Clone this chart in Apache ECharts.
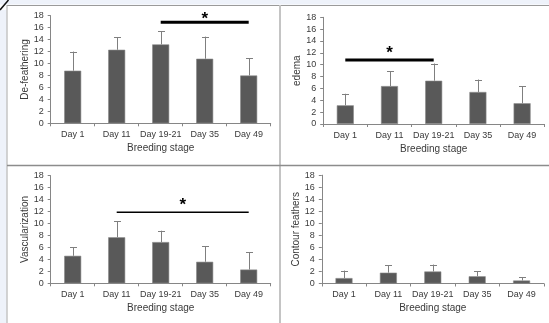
<!DOCTYPE html>
<html>
<head>
<meta charset="utf-8">
<script src="https://cdn.jsdelivr.net/npm/echarts@6/dist/echarts.min.js"></script>
<style>
html,body{margin:0;padding:0;background:#fff;}
#c{width:549px;height:323px;}
</style>
</head>
<body>
<div id="c"></div>
<script>
const categories = ['Day 1', 'Day 11', 'Day 19-21', 'Day 35', 'Day 49'];
const yTicks = [0, 2, 4, 6, 8, 10, 12, 14, 16, 18];
const xTitle = 'Breeding stage';
const panelTitles = ['De-feathering', 'edema', 'Vascularization', 'Contour feathers'];

const deFeatheringMean = [8.8, 12.3, 13.2, 10.8, 8.0];
const deFeatheringSD   = [3.2, 2.1, 2.2, 3.7, 2.9];
const edemaMean = [3.15, 6.4, 7.3, 5.4, 3.5];
const edemaSD   = [1.95, 2.5, 2.9, 2.1, 2.9];
const vascularizationMean = [4.6, 7.7, 6.9, 3.6, 2.3];
const vascularizationSD   = [1.4, 2.7, 1.9, 2.6, 2.9];
const contourMean = [0.9, 1.8, 2.0, 1.2, 0.5];
const contourSD   = [1.25, 1.2, 1.15, 0.8, 0.5];

// significance brackets: panel index, from category, to category, y value
const sigPanel = [0, 1, 2];
const sigFrom  = ['Day 19-21', 'Day 1', 'Day 11'];
const sigTo    = ['Day 49', 'Day 19-21', 'Day 49'];
const sigY     = [16.9, 10.8, 11.9];

const means = [deFeatheringMean, edemaMean, vascularizationMean, contourMean];
const sds = [deFeatheringSD, edemaSD, vascularizationSD, contourSD];

// layout (styles)
const grids = [
  {left: 50.7, top: 15.7, width: 220, height: 107.6},
  {left: 323.2, top: 17.3, width: 221, height: 106.7},
  {left: 50.7, top: 175.7, width: 220, height: 107.6},
  {left: 321.8, top: 175.2, width: 222, height: 108.3}
];
const yNameGap = [20, 20, 20, 18.5];
const sigLineWidth = [3, 3, 1.5];
const sigStarOffset = [3, 7, 6.5];

const FONT = "'Liberation Sans Narrow', 'Liberation Sans', Arial, sans-serif";
const axisColor = '#868686';
const textColor = '#3a3a3a';

const option = {
  animation: false,
  backgroundColor: '#fff',
  grid: grids.map(g => Object.assign({containLabel: false}, g)),
  xAxis: grids.map((g, i) => ({
    type: 'category',
    gridIndex: i,
    data: categories,
    name: xTitle,
    nameLocation: 'middle',
    nameGap: 20,
    nameTextStyle: {fontFamily: FONT, fontSize: 10, color: textColor},
    axisLine: {lineStyle: {color: axisColor, width: 1}},
    axisTick: {show: true, length: 3, lineStyle: {color: axisColor}},
    axisLabel: {fontFamily: FONT, fontSize: 9, color: textColor, margin: 7, interval: 0}
  })),
  yAxis: grids.map((g, i) => ({
    type: 'value',
    gridIndex: i,
    min: yTicks[0],
    max: yTicks[yTicks.length - 1],
    interval: yTicks[1] - yTicks[0],
    name: panelTitles[i],
    nameLocation: 'middle',
    nameGap: yNameGap[i],
    nameTextStyle: {fontFamily: FONT, fontSize: 10, color: textColor},
    splitLine: {show: false},
    axisLine: {show: true, lineStyle: {color: axisColor, width: 1}},
    axisTick: {show: true, length: 3, lineStyle: {color: axisColor}},
    axisLabel: {fontFamily: FONT, fontSize: 9, color: textColor, margin: 7}
  })),
  series: [],
  graphic: [
    {type: 'rect', shape: {x: 0, y: 0, width: 549, height: 4.5}, style: {fill: '#eef2fa'}, silent: true, z: 0},
    {type: 'rect', shape: {x: 0, y: 10, width: 6.5, height: 313}, style: {fill: '#eef2fa'}, silent: true, z: 0},
    {type: 'line', shape: {x1: 7, y1: 5.5, x2: 549, y2: 5.5}, style: {stroke: '#9a9a9a', lineWidth: 1}, silent: true},
    {type: 'line', shape: {x1: 7, y1: 5, x2: 7, y2: 323}, style: {stroke: '#a8a8a8', lineWidth: 1}, silent: true},
    {type: 'line', shape: {x1: 280, y1: 5, x2: 280, y2: 323}, style: {stroke: '#c4c4c4', lineWidth: 2}, silent: true},
    {type: 'line', shape: {x1: 7, y1: 165.5, x2: 549, y2: 165.5}, style: {stroke: '#8c8c8c', lineWidth: 1.5}, silent: true},
    {type: 'line', shape: {x1: 0, y1: 10, x2: 8.5, y2: 0}, style: {stroke: '#111', lineWidth: 1.5}, silent: true}
  ]
};

for (let i = 0; i < 4; i++) {
  option.series.push({
    type: 'bar',
    xAxisIndex: i, yAxisIndex: i,
    data: means[i],
    barWidth: 17,
    itemStyle: {color: '#595959', borderColor: '#8a8a8a', borderWidth: 0.6},
    z: 2
  });
  option.series.push({
    type: 'custom',
    xAxisIndex: i, yAxisIndex: i,
    data: categories.map((c, k) => [k, means[i][k], sds[i][k]]),
    encode: {x: 0, y: 1},
    z: 3,
    renderItem: function (params, api) {
      const x = api.value(0), m = api.value(1), s = api.value(2);
      const p0 = api.coord([x, m]);
      const p1 = api.coord([x, m + s]);
      const st = {stroke: '#7f7f7f', lineWidth: 1};
      return {
        type: 'group',
        children: [
          {type: 'line', shape: {x1: Math.round(p0[0]) + 0.5, y1: p0[1], x2: Math.round(p0[0]) + 0.5, y2: p1[1]}, style: st},
          {type: 'line', shape: {x1: Math.round(p1[0]) - 3, y1: Math.round(p1[1]) + 0.5, x2: Math.round(p1[0]) + 4, y2: Math.round(p1[1]) + 0.5}, style: st}
        ]
      };
    }
  });
}

sigPanel.forEach((p, j) => {
  option.series.push({
    type: 'custom',
    xAxisIndex: p, yAxisIndex: p,
    data: [[categories.indexOf(sigFrom[j]), categories.indexOf(sigTo[j]), sigY[j]]],
    dimensions: ['from', 'to', 'y'],
    encode: {x: [0, 1], y: 2},
    clip: false,
    z: 4,
    renderItem: function (params, api) {
      const a = api.coord([api.value(0), api.value(2)]);
      const b = api.coord([api.value(1), api.value(2)]);
      const mid = (a[0] + b[0]) / 2;
      return {
        type: 'group',
        children: [
          {type: 'line', shape: {x1: a[0], y1: a[1], x2: b[0], y2: b[1]}, style: {stroke: '#000', lineWidth: sigLineWidth[j]}},
          {type: 'text', style: {text: '*', x: mid, y: a[1] - sigStarOffset[j], fill: '#000', font: "bold 17px 'Liberation Sans', Arial, sans-serif", align: 'center', verticalAlign: 'middle'}}
        ]
      };
    }
  });
});

const chart = echarts.init(document.getElementById('c'), null, {renderer: 'canvas'});
chart.setOption(option);
</script>
</body>
</html>
